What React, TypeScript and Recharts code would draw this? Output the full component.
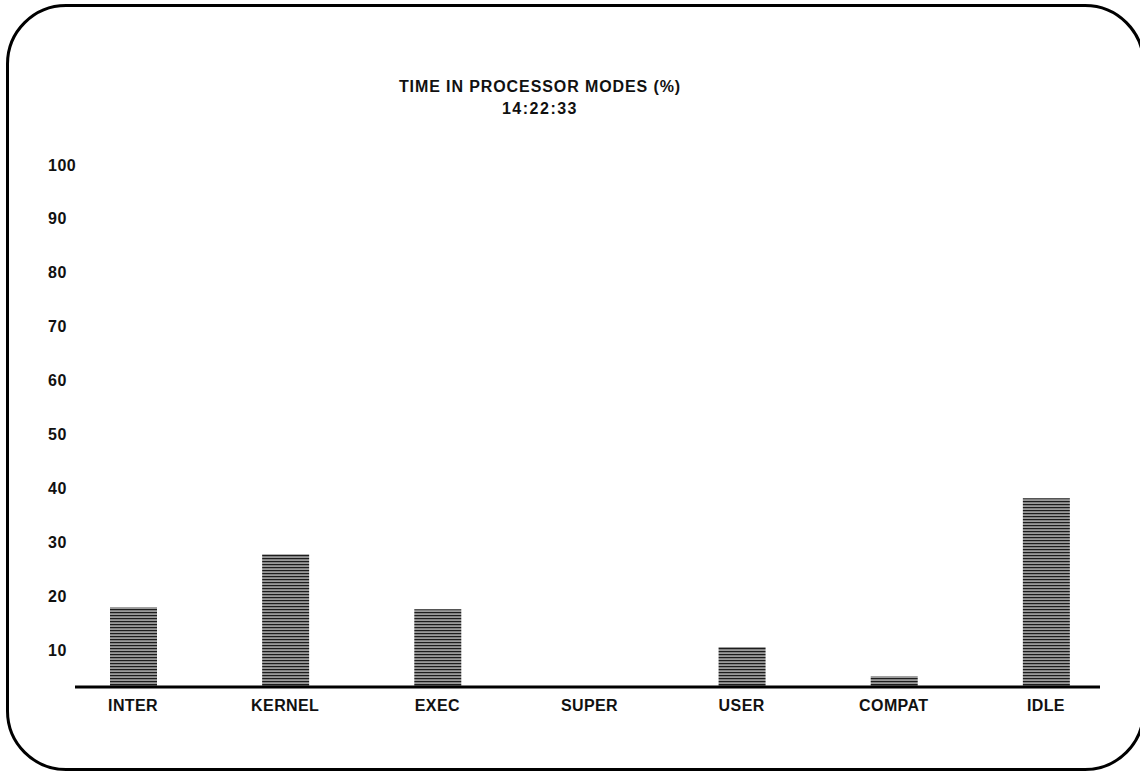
import React from 'react'
import { BarChart, Bar, XAxis, YAxis } from 'recharts'

const modes = ['INTER', 'KERNEL', 'EXEC', 'SUPER', 'USER', 'COMPAT', 'IDLE']
const percentages = [18.0, 27.8, 17.6, 0, 10.6, 5.2, 38.2]
const yTicks = [10, 20, 30, 40, 50, 60, 70, 80, 90, 100]

const chartTitle = 'TIME IN PROCESSOR MODES (%)'
const timestamp = '14:22:33'

const data = modes.map((mode, i) => ({ mode, pct: percentages[i] }))

const font = '"Liberation Sans", Arial, Helvetica, sans-serif'

const XTick = ({ x, y, payload }: any) => (
  <text
    x={x}
    y={y + 10}
    textAnchor="middle"
    dominantBaseline="central"
    fontSize={16}
    fontWeight="bold"
    letterSpacing={0.4}
    fill="#111"
    fontFamily={font}
  >
    {payload.value}
  </text>
)

const YTick = ({ x, y, payload }: any) => (
  <text
    x={x - 19}
    y={y}
    textAnchor="start"
    dominantBaseline="central"
    fontSize={16}
    fontWeight="bold"
    letterSpacing={0.5}
    fill="#111"
    fontFamily={font}
  >
    {payload.value}
  </text>
)

export default function App() {
  return (
    <div
      style={{
        position: 'absolute',
        left: 0,
        top: 0,
        width: 1140,
        height: 772,
        overflow: 'hidden',
        background: '#fff',
        fontFamily: font
      }}
    >
      {/* rounded screen frame */}
      <div
        style={{
          position: 'absolute',
          left: 6,
          top: 4,
          width: 1139,
          height: 767,
          boxSizing: 'border-box',
          border: '3px solid #000',
          borderRadius: 60
        }}
      />

      <div
        style={{
          position: 'absolute',
          left: 340,
          width: 400,
          top: 78,
          textAlign: 'center',
          fontSize: 16,
          fontWeight: 'bold',
          letterSpacing: 0.9,
          color: '#111',
          lineHeight: '18px'
        }}
      >
        {chartTitle}
      </div>
      <div
        style={{
          position: 'absolute',
          left: 340,
          width: 400,
          top: 100,
          textAlign: 'center',
          fontSize: 16,
          fontWeight: 'bold',
          letterSpacing: 1.5,
          color: '#111',
          lineHeight: '18px'
        }}
      >
        {timestamp}
      </div>

      <div style={{ position: 'absolute', left: 0, top: 0 }}>
        <BarChart
          width={1140}
          height={772}
          data={data}
          margin={{ top: 165, right: 40, bottom: 55, left: 15 }}
        >
          <defs>
            <pattern id="barStripes" width={4} height={3} patternUnits="userSpaceOnUse">
              <rect x={0} y={0} width={4} height={3} fill="#9a9a9a" />
              <rect x={0} y={0} width={4} height={1.2} fill="#1c1c1c" />
            </pattern>
          </defs>
          <XAxis
            dataKey="mode"
            height={30}
            padding={{ left: -18, right: -22 }}
            axisLine={{ stroke: '#000', strokeWidth: 3 }}
            tickLine={false}
            tick={<XTick />}
            interval={0}
          />
          <YAxis
            type="number"
            width={60}
            domain={[3.2, 100]}
            allowDataOverflow
            ticks={yTicks}
            interval={0}
            axisLine={false}
            tickLine={false}
            tick={<YTick />}
          />
          <Bar dataKey="pct" barSize={47} fill="url(#barStripes)" isAnimationActive={false} />
        </BarChart>
      </div>
    </div>
  )
}
